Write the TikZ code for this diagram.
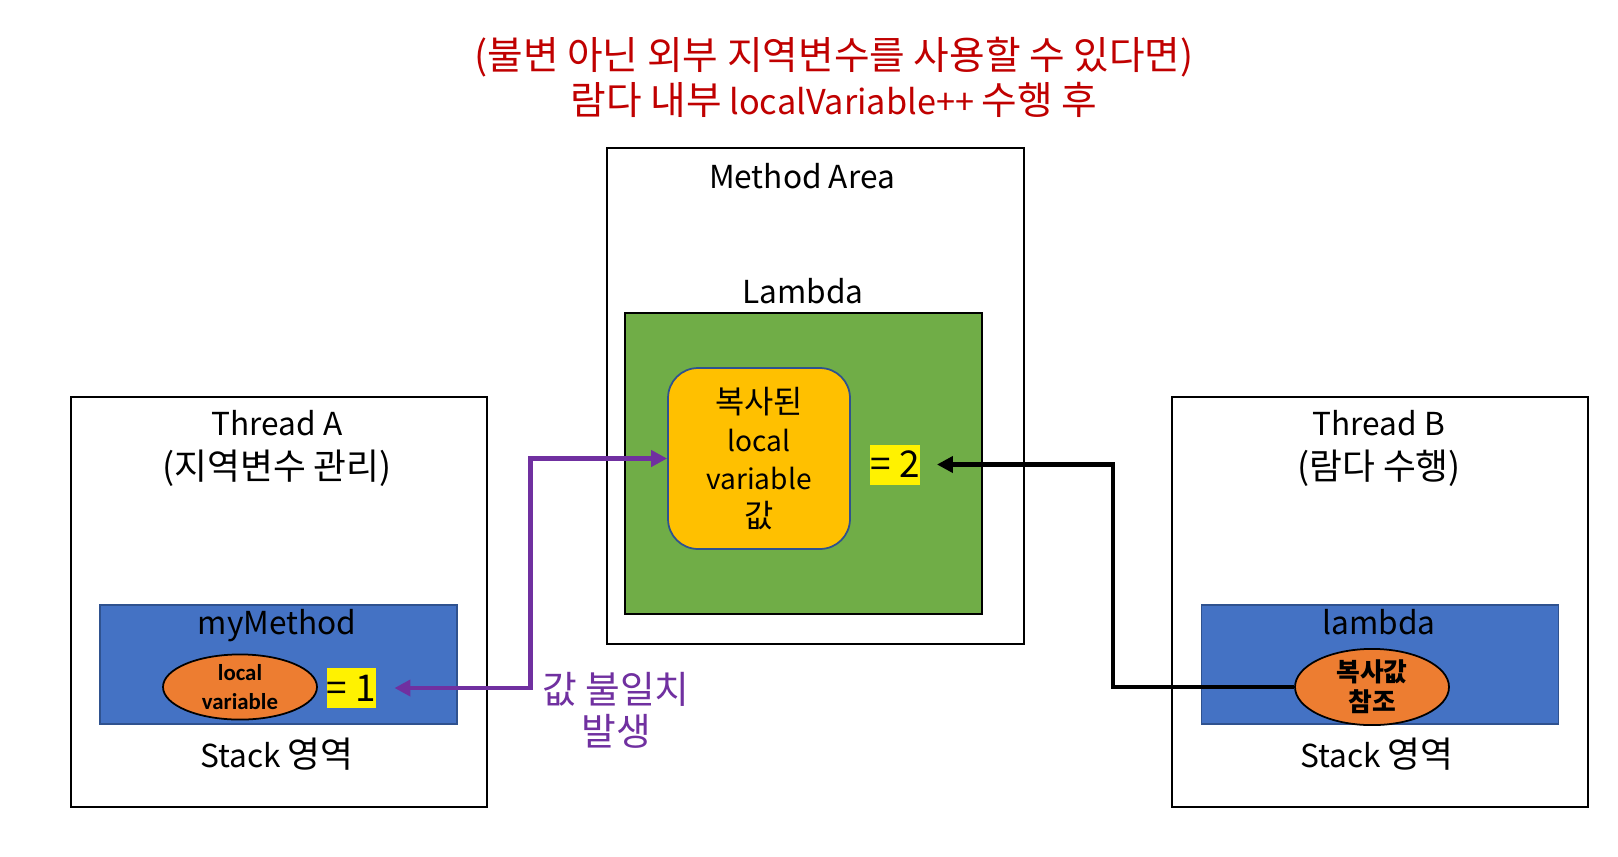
\documentclass[tikz,border=0pt]{standalone}
\usepackage{fontspec}
\setmainfont{Noto Sans CJK KR}
\newfontfamily\krfont{Noto Sans CJK KR}[Scale=1.13]
\newfontfamily\ovalfont{Carlito}
\usepackage{xcolor}
\usetikzlibrary{shapes,arrows.meta,positioning}
\definecolor{stackblue}{RGB}{68,114,196}
\definecolor{navy}{RGB}{47,82,143}
\definecolor{lambdagreen}{RGB}{112,173,71}
\definecolor{copygold}{RGB}{255,192,0}
\definecolor{varorange}{RGB}{237,125,49}
\definecolor{titlered}{RGB}{192,0,0}
\definecolor{mismatch}{RGB}{112,48,160}

\tikzset{
  areabox/.style={draw, rectangle, line width=1.2pt, fill=white},
  stackbox/.style={draw=navy, rectangle, line width=1pt, fill=stackblue, minimum width=7.14cm, minimum height=2.38cm},
  varoval/.style={draw, ellipse, line width=1pt, fill=varorange, minimum width=3.08cm, minimum height=1.2cm, inner sep=0pt, align=center, font=\ovalfont\bfseries\fontsize{13}{17}\selectfont},
  valbox/.style={rectangle, fill=yellow, minimum width=0.9cm, minimum height=0.8cm, inner sep=0pt, font=\fontsize{21}{21}\selectfont},
  boxtext/.style={align=center, inner sep=0pt, font=\fontsize{18}{25}\selectfont},
}

\begin{document}
\begin{tikzpicture}[x=0.02cm, y=-0.02cm]
    \useasboundingbox[fill=white] (0,0) rectangle (1618,856);

    \node[boxtext, text=titlered, font=\fontsize{19.5}{25.5}\selectfont] (title) at (834,77) {{\krfont (불변 아닌 외부 지역변수를 사용할 수 있다면)}\\{\krfont 람다 내부} localVariable++ {\krfont 수행 후}};

    \node[areabox, minimum width=8.32cm, minimum height=8.2cm] (threadA) at (279,602) {};
    \node[boxtext] (threadAname) at (277,448) {Thread A\\{\krfont (지역변수 관리)}};
    \node[stackbox] (myMethod) at (278.5,664.5) {};
    \node[boxtext] (myMethodname) at (277,626) {myMethod};
    \node[varoval] (localA) at (240,687) {local\\variable};
    \node[valbox] (eq1) at (351.5,688) {= 1};
    \node[boxtext] (stackA) at (277,754) {Stack {\krfont 영역}};

    \node[areabox, minimum width=8.34cm, minimum height=9.92cm] (methodArea) at (815.5,396) {};
    \node[boxtext] (methodAreaname) at (802,176) {Method Area};
    \node[boxtext] (lambdaname) at (803,291) {Lambda};
    \node[draw, line width=1.2pt, fill=lambdagreen, minimum width=7.14cm, minimum height=6.02cm] (lambdaBox) at (803.5,463.5) {};
    \node[boxtext, draw=navy, fill=copygold, rounded corners=0.6cm, line width=1pt, minimum width=3.64cm, minimum height=3.62cm, font=\fontsize{16}{21.5}\selectfont] (copied) at (759,458.5) {{\krfont 복사된}\\local\\variable\\{\krfont 값}};
    \node[valbox] (eq2) at (895,464.5) {= 2};

    \node[areabox, minimum width=8.32cm, minimum height=8.2cm] (threadB) at (1380,602) {};
    \node[boxtext] (threadBname) at (1379,448) {Thread B\\{\krfont (람다 수행)}};
    \node[stackbox] (lambdaFrame) at (1380,664.5) {};
    \node[boxtext] (lambdaFramename) at (1379,622) {lambda};
    \node[varoval] (refB) at (1372,687) {{\krfont 복사값}\\{\krfont 참조}};
    \node[boxtext] (stackB) at (1377,754) {Stack {\krfont 영역}};

    \draw[mismatch, line width=2.7pt, {Triangle[length=0.32cm,width=0.32cm]}-{Triangle[length=0.32cm,width=0.32cm]}] ([xshift=.36cm]eq1.east) -- ++(2.72cm,0) |- (copied.west);
    \node[boxtext, text=mismatch, font=\fontsize{19}{24}\selectfont] (mismatchnote) at (616,710) {{\krfont 값 불일치}\\{\krfont 발생}};

    \draw[line width=2.6pt, -{Triangle[length=0.32cm,width=0.32cm]}] (refB.west) -- ++(-3.62cm,0) |- ([xshift=.34cm]eq2.east);
\end{tikzpicture}
\end{document}
